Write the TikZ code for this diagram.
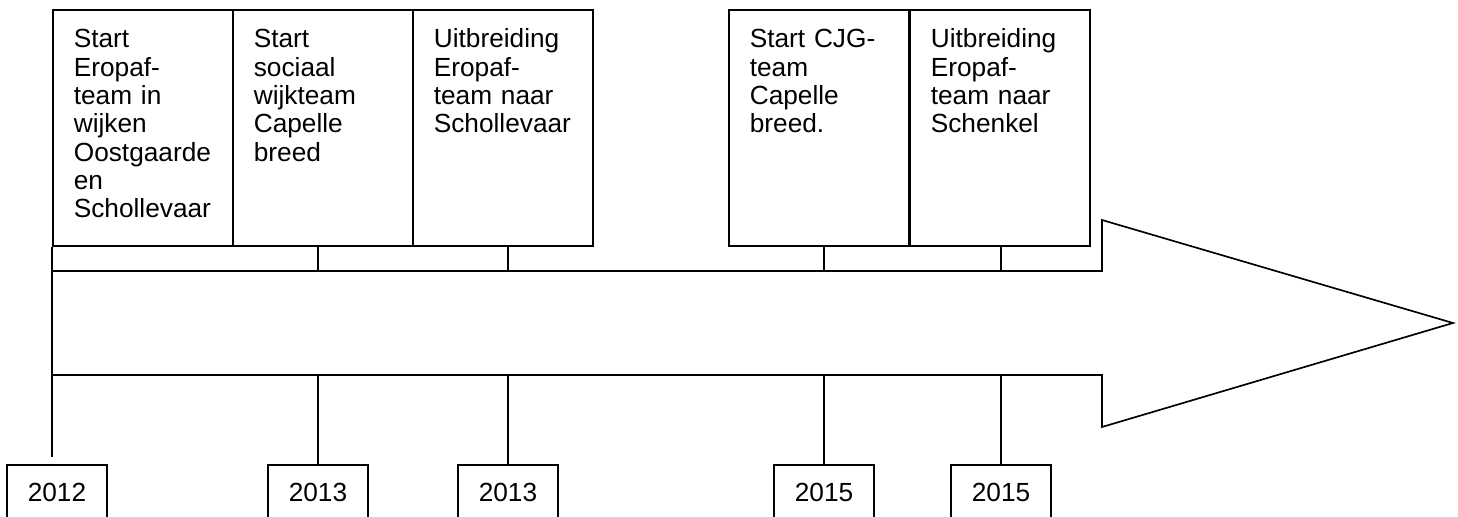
\documentclass[tikz,border=0pt]{standalone}
\usepackage{fontspec}
\setmainfont{Liberation Sans}
\begin{document}
\begin{tikzpicture}[x=0.48pt,y=-0.48pt,line width=0.8pt,
  event/.style={draw,anchor=north west,align=left,inner ysep=0pt,inner xsep=10.08pt,text width=66.24pt,text height=18.24pt,text depth=95.04pt,font=\fontsize{12.6}{13.6}\selectfont},
  year/.style={draw,anchor=north,minimum width=48pt,minimum height=26.88pt,inner sep=0pt,font=\fontsize{12.6}{13.6}\selectfont}]
\useasboundingbox (0,0) rectangle (1458,517);
\node[event] (e1) at (52,9) {Start\\Eropaf-\\team in\\wijken\\Oostgaarde\\en\\Schollevaar};
\node[event] (e2) at (232,9) {Start\\sociaal\\wijkteam\\Capelle\\breed};
\node[event] (e3) at (412,9) {Uitbreiding\\Eropaf-\\team naar\\Schollevaar};
\node[event] (e4) at (728,9) {Start CJG-\\team\\Capelle\\breed.};
\node[event] (e5) at (909,9) {Uitbreiding\\Eropaf-\\team naar\\Schenkel};
\node[year] (y1) at (57,464) {2012};
\node[year] (y2) at (318,464) {2013};
\node[year] (y3) at (508,464) {2013};
\node[year] (y4) at (824,464) {2015};
\node[year] (y5) at (1001,464) {2015};
\coordinate (c1) at (52,457);
\draw (e1.south west) -- (c1);
\draw (y2.north) -- (y2.north |- e2.south);
\draw (y3.north) -- (y3.north |- e3.south);
\draw (y4.north) -- (y4.north |- e4.south);
\draw (y5.north) -- (y5.north |- e5.south);
\draw[fill=white] (52,271) -- (1102,271) -- (1102,220) -- (1453,323) -- (1102,427) -- (1102,375) -- (52,375) -- cycle;
\end{tikzpicture}
\end{document}
